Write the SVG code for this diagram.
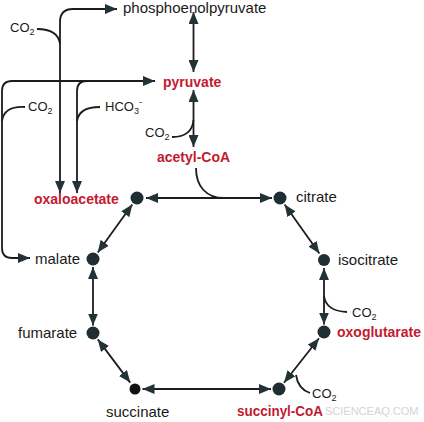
<svg xmlns="http://www.w3.org/2000/svg" width="424" height="422" viewBox="0 0 424 422">
<style>
.bg{fill:#ffffff}
.ln{fill:none;stroke:#1c1c1c;stroke-width:1.8}
.dbl{marker-start:url(#ah);marker-end:url(#ah)}
.one{marker-end:url(#ah)}
.nd{fill:#1f2e32}
.lbl{font-family:"Liberation Sans",Arial,sans-serif;font-size:15px;fill:#1a1a1a}
.key{font-family:"Liberation Sans",Arial,sans-serif;font-size:14px;font-weight:bold;fill:#c21a30}
.co{font-family:"Liberation Sans",Arial,sans-serif;font-size:13px;fill:#1a1a1a}
.sub{font-size:9px}
.wm{font-family:"Liberation Sans",Arial,sans-serif;font-size:11px;fill:#d4d4d4}
</style>
<defs>
<marker id="ah" viewBox="0 0 12 10" refX="12" refY="5" markerWidth="12" markerHeight="10" markerUnits="userSpaceOnUse" orient="auto-start-reverse">
<path d="M0,0 L12,5 L0,10 Z" fill="#233236"/>
</marker>
</defs>
<rect class="bg" x="0" y="0" width="424" height="422"/>
<g id="connectors">
<path class="ln dbl" d="M60,193 V22 Q60,9 73,9 H117"/>
<path class="ln" d="M37,29 Q58,29 60,44"/>
<path class="ln dbl" d="M30,258 H12 Q2,258 2,248 V91 Q2,81 12,81 H155"/>
<path class="ln" d="M25,107 Q4,106 2,121"/>
<path class="ln one" d="M87,81 Q77,81 77,91 V193"/>
<path class="ln" d="M100,107 Q79,107 77,121"/>
<path class="ln dbl" d="M193.5,12 V72"/>
<path class="ln dbl" d="M193.5,90 V147"/>
<path class="ln" d="M172,137 Q192,137 193.5,120"/>
<path class="ln" d="M196,168 C196,186 206,198 224,198"/>
<path class="ln dbl" d="M146,198 H272"/>
<path class="ln dbl" d="M284.6,204.5 L319.4,253.5"/>
<path class="ln dbl" d="M324,268 V324.5"/>
<path class="ln" d="M324,296 Q326,311 347,312"/>
<path class="ln dbl" d="M319,338.3 L284,382.7"/>
<path class="ln" d="M296,375 Q298,389 310,393"/>
<path class="ln dbl" d="M142.5,389 H271"/>
<path class="ln dbl" d="M130.2,382.6 L97.8,339.4"/>
<path class="ln dbl" d="M93,267 V325.5"/>
<path class="ln dbl" d="M97.7,252.5 L132.3,204.5"/>
</g>
<g id="n-phosphoenolpyruvate"><text class="lbl" x="123" y="13">phosphoenolpyruvate</text></g>
<g id="n-pyruvate"><text class="key" x="163" y="87">pyruvate</text></g>
<g id="n-acetylcoa"><text class="key" x="157" y="162">acetyl-CoA</text></g>
<g id="n-oxaloacetate"><circle class="nd" cx="137" cy="198" r="6.5"/><text class="key" x="34" y="204">oxaloacetate</text></g>
<g id="n-citrate"><circle class="nd" cx="280" cy="198" r="6.5"/><text class="lbl" x="296" y="202">citrate</text></g>
<g id="n-isocitrate"><circle class="nd" cx="324" cy="260" r="6"/><text class="lbl" x="338" y="265">isocitrate</text></g>
<g id="n-oxoglutarate"><circle class="nd" cx="324" cy="332" r="6.5"/><text class="key" x="337" y="337">oxoglutarate</text></g>
<g id="n-succinylcoa"><circle class="nd" cx="279" cy="389" r="6.5"/><text class="key" x="237" y="416" textLength="86" lengthAdjust="spacingAndGlyphs">succinyl-CoA</text></g>
<g id="n-succinate"><circle cx="135" cy="389" r="5.5" fill="#111"/><text class="lbl" x="106" y="417">succinate</text></g>
<g id="n-fumarate"><circle class="nd" cx="93" cy="333" r="6.5"/><text class="lbl" x="18" y="338">fumarate</text></g>
<g id="n-malate"><circle class="nd" cx="93" cy="259" r="6.5"/><text class="lbl" x="35" y="264">malate</text></g>
<g id="labels">
<text class="co" x="10" y="32">CO<tspan class="sub" dy="3">2</tspan></text>
<text class="co" x="28" y="111">CO<tspan class="sub" dy="3">2</tspan></text>
<text class="co" x="105" y="111">HCO<tspan class="sub" dy="3">3</tspan><tspan class="sub" dy="-9">-</tspan></text>
<text class="co" x="145" y="137">CO<tspan class="sub" dy="3">2</tspan></text>
<text class="co" x="352" y="317">CO<tspan class="sub" dy="3">2</tspan></text>
<text class="co" x="312" y="398">CO<tspan class="sub" dy="3">2</tspan></text>
<text class="wm" x="325" y="415">SCIENCEAQ.COM</text>
</g>
</svg>
